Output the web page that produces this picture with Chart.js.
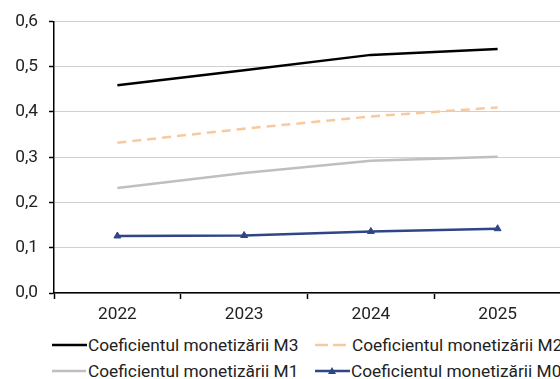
<!DOCTYPE html>
<html>
<head>
<meta charset="utf-8">
<script src="https://cdn.jsdelivr.net/npm/chart.js@4"></script>
<style>
  html, body { margin: 0; padding: 0; background: #fff; overflow: hidden; width: 560px; height: 379px; }
  #wrap { position: relative; width: 566px; height: 379px; }
  #chart { position: absolute; left: 0; top: 0; }
  .leg { position: absolute; font-family: Roboto, sans-serif; font-size: 17.3px; color: #222; white-space: nowrap; line-height: 20px; }
  .leg svg { position: absolute; top: 0; }
  .leg span { position: absolute; top: 0; }
</style>
</head>
<body>
<div id="wrap">
  <canvas id="chart" width="566" height="325"></canvas>
  <div id="legend"></div>
</div>
<script>
// date
const ani = ["2022", "2023", "2024", "2025"];
const m3 = [0.459, 0.492, 0.526, 0.539];
const m2 = [0.332, 0.363, 0.390, 0.410];
const m1 = [0.232, 0.265, 0.292, 0.301];
const m0 = [0.126, 0.127, 0.136, 0.142];
const etichete = ["Coeficientul monetizării M3", "Coeficientul monetizării M2", "Coeficientul monetizării M1", "Coeficientul monetizării M0"];

const culori = ["#000000", "#F9C99D", "#BFBFBF", "#2F4686"];

new Chart(document.getElementById("chart"), {
  type: "line",
  data: {
    labels: ani,
    datasets: [
      { label: etichete[0], data: m3, borderColor: culori[0], borderWidth: 2.5, pointRadius: 0 },
      { label: etichete[1], data: m2, borderColor: culori[1], borderWidth: 2.5, borderDash: [9, 6], pointRadius: 0 },
      { label: etichete[2], data: m1, borderColor: culori[2], borderWidth: 2.5, pointRadius: 0 },
      { label: etichete[3], data: m0, borderColor: culori[3], backgroundColor: culori[3], borderWidth: 2.5,
        pointStyle: "triangle", pointRadius: 4, pointBorderWidth: 1 }
    ]
  },
  options: {
    responsive: false,
    animation: false,
    layout: { padding: { top: 21, right: 2, left: 0, bottom: 0 } },
    plugins: { legend: { display: false }, tooltip: { enabled: false } },
    scales: {
      x: {
        offset: true,
        grid: { offset: true, drawOnChartArea: false, tickLength: 6, tickColor: "#000", tickWidth: 1.5 },
        border: { color: "#000", width: 1.5 },
        ticks: { color: "#222", font: { family: "Roboto", size: 17.3 }, padding: 5 },
        afterFit: (s) => { s.height = 32; }
      },
      y: {
        min: 0, max: 0.6,
        grid: { color: "#D0D0D0", borderDash: [1, 1], tickLength: 5, tickColor: "#000", tickBorderDash: [], tickWidth: 1.5 },
        border: { color: "#000", width: 1.5 },
        ticks: {
          stepSize: 0.1, color: "#222", font: { family: "Roboto", size: 17.3 }, padding: 11,
          callback: (v) => v.toFixed(1).replace(".", ",")
        },
        afterFit: (s) => { s.width = 54; }
      }
    }
  }
});

// legenda HTML
const pozitii = [
  { x: 52, y: 335, w: 35, txt: 88 },
  { x: 315, y: 335, w: 31, txt: 352 },
  { x: 52, y: 361, w: 34, txt: 88 },
  { x: 315, y: 361, w: 35, txt: 351 }
];
const leg = document.getElementById("legend");
pozitii.forEach((p, i) => {
  const d = document.createElement("div");
  d.className = "leg";
  d.style.left = p.x + "px";
  d.style.top = p.y + "px";
  let linie = `<line x1="0" y1="10" x2="${p.w}" y2="10" stroke="${culori[i]}" stroke-width="2.5"${i === 1 ? ' stroke-dasharray="13,5"' : ''}/>`;
  if (i === 3) {
    const c = 17;
    linie += `<polygon points="${c - 4},13 ${c + 4},13 ${c},6" fill="${culori[3]}"/>`;
  }
  d.innerHTML = `<svg width="${p.w}" height="20">${linie}</svg><span style="left:${p.txt - p.x}px">${etichete[i]}</span>`;
  leg.appendChild(d);
});
</script>
</body>
</html>
